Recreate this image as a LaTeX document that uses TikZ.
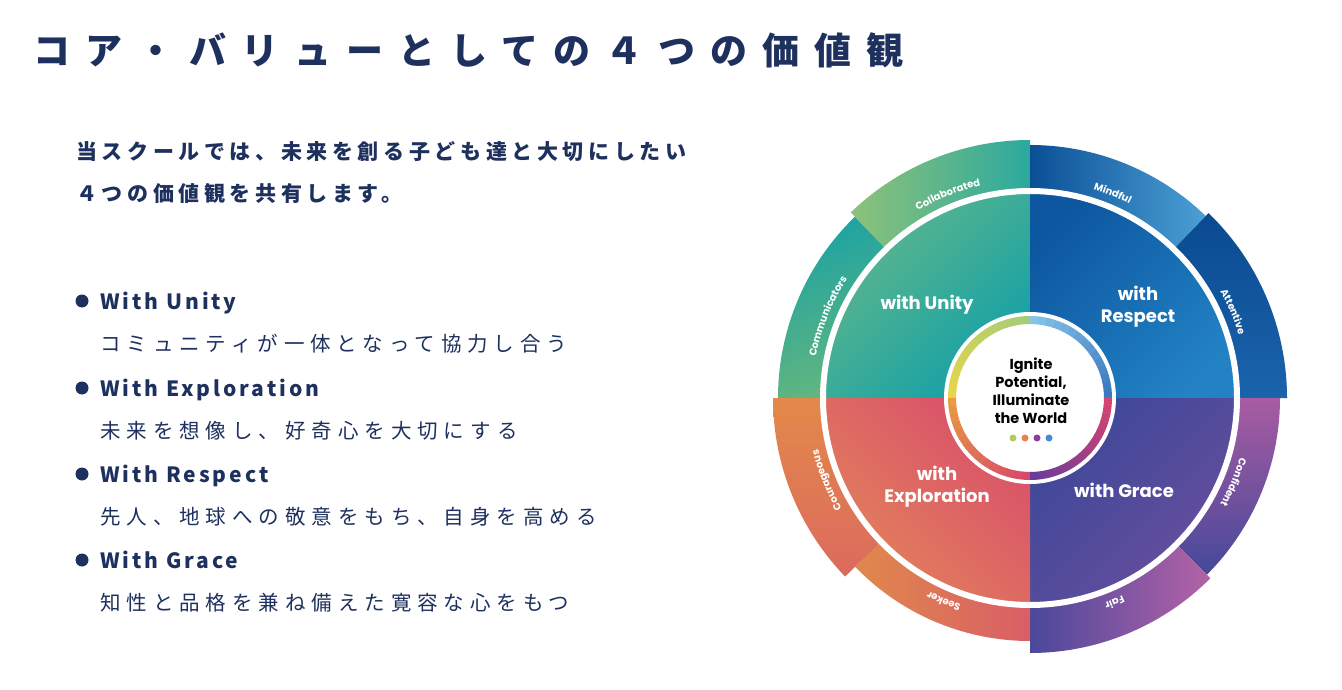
\documentclass[tikz,border=0pt]{standalone}
\usepackage{fontspec}
\setmainfont{Noto Sans CJK JP}
\newfontfamily\titlefont[LetterSpace=41]{Noto Sans CJK JP}
\newfontfamily\leadfont[LetterSpace=22]{Noto Sans CJK JP}
\newfontfamily\itemfont[LetterSpace=14]{Noto Sans CJK JP}
\newfontfamily\descfont[LetterSpace=29]{Noto Sans CJK JP}
\newfontfamily\wheelfont{Poppins}
\usetikzlibrary{decorations.text, positioning}

\newcommand{\lblfont}{\wheelfont\bfseries\fontsize{10}{11}\selectfont}
\newcommand{\arclabel}[3]{%
  \path[decorate, decoration={text along path, text align=center,
      text color=white, text={|\lblfont|#3}}]
    (#1:218) arc[start angle=#1, end angle=#2, radius=218];}

\begin{document}
\begin{tikzpicture}[x=1pt, y=1pt,
    % Styles
    heading/.style={anchor=base west, inner sep=0pt, text=navy},
    bulletdot/.style={circle, fill=navy, inner sep=0pt, minimum size=13pt},
    quadlabel/.style={
        font=\wheelfont\bfseries\fontsize{18}{22}\selectfont,
        text=white, align=center, inner sep=0pt
    },
    corelabel/.style={
        font=\wheelfont\bfseries\fontsize{14.5}{18}\selectfont,
        text=black, align=center, inner sep=0pt
    },
    coredot/.style={circle, inner sep=0pt, minimum size=7pt},
]
% Define colors
\definecolor{navy}{RGB}{30,48,94}
\definecolor{unityA}{RGB}{98,184,137}
\definecolor{unityB}{RGB}{20,160,168}
\definecolor{respA}{RGB}{13,87,160}
\definecolor{respB}{RGB}{34,130,196}
\definecolor{graceA}{RGB}{61,72,152}
\definecolor{graceB}{RGB}{106,78,158}
\definecolor{explA}{RGB}{217,80,106}
\definecolor{explB}{RGB}{226,132,90}
\definecolor{commA}{RGB}{29,163,162}
\definecolor{commB}{RGB}{100,182,126}
\definecolor{collA}{RGB}{142,194,122}
\definecolor{collB}{RGB}{43,169,158}
\definecolor{mindA}{RGB}{11,79,150}
\definecolor{mindB}{RGB}{75,160,213}
\definecolor{attA}{RGB}{10,74,144}
\definecolor{attB}{RGB}{26,100,172}
\definecolor{confA}{RGB}{169,92,162}
\definecolor{confB}{RGB}{69,72,154}
\definecolor{fairA}{RGB}{75,72,156}
\definecolor{fairB}{RGB}{180,98,166}
\definecolor{seekA}{RGB}{224,136,76}
\definecolor{seekB}{RGB}{217,94,102}
\definecolor{courA}{RGB}{227,137,74}
\definecolor{courB}{RGB}{219,106,94}
\definecolor{ringA}{RGB}{58,120,192}
\definecolor{ringB}{RGB}{133,195,232}
\definecolor{ringC}{RGB}{165,204,120}
\definecolor{ringD}{RGB}{230,214,74}
\definecolor{ringE}{RGB}{233,154,68}
\definecolor{ringF}{RGB}{216,72,106}
\definecolor{ringG}{RGB}{106,60,154}
\definecolor{ringH}{RGB}{216,68,112}
\definecolor{dotA}{RGB}{181,204,90}
\definecolor{dotB}{RGB}{232,131,78}
\definecolor{dotC}{RGB}{138,63,154}
\definecolor{dotD}{RGB}{61,143,216}

\fill[white] (0,0) rectangle (1342,-690);
\useasboundingbox (0,0) rectangle (1342,-690);

% Title and lead
\node[heading, font=\titlefont\bfseries\fontsize{37}{40}\selectfont] (title) at (33,-65)
    {コア・バリューとしての４つの価値観};
\node[heading, font=\leadfont\bfseries\fontsize{21}{24}\selectfont] (lead1) at (76,-160)
    {当スクールでは、未来を創る子ども達と大切にしたい};
\node[heading, font=\leadfont\bfseries\fontsize{21}{24}\selectfont] (lead2) at (76,-201)
    {４つの価値観を共有します。};

% Value list
\foreach \i/\txt/\desc/\y in {
    1/With Unity/コミュニティが一体となって協力し合う/301,
    2/With Exploration/未来を想像し、好奇心を大切にする/388,
    3/With Respect/先人、地球への敬意をもち、自身を高める/474,
    4/With Grace/知性と品格を兼ね備えた寛容な心をもつ/560} {
    \node[bulletdot] (dot\i) at (82,-\y) {};
    \node[heading, font=\itemfont\bfseries\fontsize{21}{24}\selectfont] (item\i) at (100,-\y-8) {\txt};
    \node[heading, font=\descfont\fontsize{20.5}{24}\selectfont] (desc\i) at (100,-\y-50) {\desc};
}

% Wheel
\begin{scope}[shift={(1030,-398)}]
    % outer segments
    \foreach \a/\b/\r/\ca/\cb/\ang in {
        180/134/252/commA/commB/20, 134/90/258/collA/collB/90,
        90/46/253/mindA/mindB/90, 46/0/257/attA/attB/0,
        0/-45/250/confA/confB/0, -45/-90/255/fairA/fairB/90,
        -90/-136/243/seekA/seekB/90, -136/-180/257/courA/courB/0} {
        \shade[top color=\ca, bottom color=\cb, shading angle=\ang]
            (\a:200) arc[start angle=\a, end angle=\b, radius=200]
            -- (\b:\r) arc[start angle=\b, end angle=\a, radius=\r] -- cycle;
    }
    % quadrants
    \shade[top color=unityA, bottom color=unityB, shading angle=45]
        (0,0) -- (180:209) arc[start angle=180, end angle=90, radius=209] -- cycle;
    \shade[top color=respA, bottom color=respB, shading angle=45]
        (0,0) -- (90:209) arc[start angle=90, end angle=0, radius=209] -- cycle;
    \shade[top color=graceA, bottom color=graceB, shading angle=45]
        (0,0) -- (0:209) arc[start angle=0, end angle=-90, radius=209] -- cycle;
    \shade[top color=explA, bottom color=explB, shading angle=-45]
        (0,0) -- (-90:209) arc[start angle=-90, end angle=-180, radius=209] -- cycle;
    \draw[white, line width=6pt] (0,0) circle[radius=207];

    % segment labels
    \arclabel{182}{134}{Communicators}
    \arclabel{136}{88}{Collaborated}
    \arclabel{92}{44}{Mindful}
    \arclabel{47}{-1}{Attentive}
    \arclabel{1}{-46}{Confident}
    \arclabel{-44}{-91}{Fair}
    \arclabel{-89}{-137}{Seeker}
    \arclabel{-134}{-182}{Courageous}

    % core circle
    \fill[white] (0,0) circle[radius=86];
    \foreach \s/\ca/\cb in {0/ringA/ringB, 90/ringC/ringD, 180/ringE/ringF, 270/ringG/ringH} {
        \foreach \k in {0,...,14} {
            \pgfmathsetmacro\p{100-\k*100/14}
            \draw[line width=8pt, color=\ca!\p!\cb]
                (\s+\k*6:78) arc[start angle=\s+\k*6, end angle=\s+\k*6+6.4, radius=78];
        }
    }

    % labels
    \node[quadlabel] (unity) at (-103,93) {with Unity};
    \node[quadlabel] (respect) at (108,91) {with\\Respect};
    \node[quadlabel] (grace) at (94,-92) {with Grace};
    \node[quadlabel] (explore) at (-93,-89) {with\\Exploration};
    \node[corelabel] (core) at (1,7) {Ignite\\Potential,\\Illuminate\\the World};
    \foreach \x/\c [count=\n] in {-17/dotA, -5/dotB, 7/dotC, 19/dotD} {
        \node[coredot, fill=\c] (cdot\n) at (\x,-40) {};
    }
\end{scope}
\end{tikzpicture}
\end{document}
